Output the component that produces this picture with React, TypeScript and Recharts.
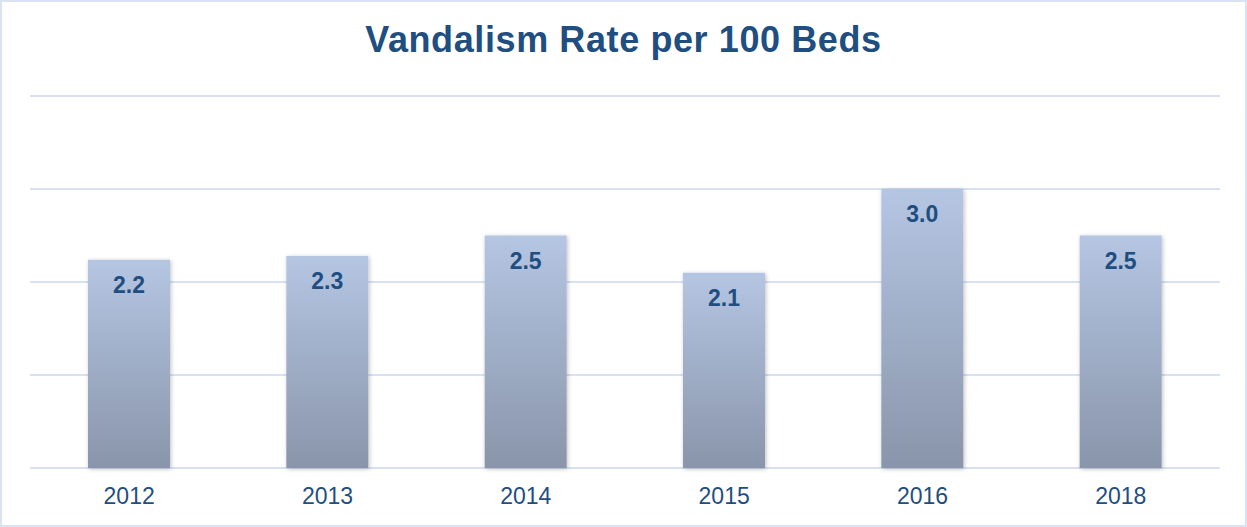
import React from 'react';
import { BarChart, Bar, XAxis, YAxis, CartesianGrid, LabelList } from 'recharts';

const years = ['2012', '2013', '2014', '2015', '2016', '2018'];
const rates = [2.24, 2.28, 2.5, 2.1, 3.0, 2.5];
const yTicks = [0, 1, 2, 3, 4];

const data = years.map((year, i) => ({ year, rate: rates[i] }));

const App: React.FC = () => {
  return (
    <div
      style={{
        position: 'absolute',
        left: 0,
        top: 0,
        width: 1247,
        height: 527,
        boxSizing: 'border-box',
        border: '2px solid #dae3f3',
        background: '#fff',
        fontFamily: '"Liberation Sans", Arial, sans-serif',
      }}
    >
      <div
        style={{
          position: 'absolute',
          left: 0,
          top: 17,
          width: '100%',
          textAlign: 'center',
          fontSize: 36,
          letterSpacing: 0.6,
          fontWeight: 'bold',
          color: '#1f4e80',
        }}
      >
        Vandalism Rate per 100 Beds
      </div>
      <div style={{ position: 'absolute', left: -2, top: -2 }}>
        <BarChart
          width={1247}
          height={527}
          data={data}
          margin={{ top: 96, right: 27, bottom: 29, left: 30 }}
          barCategoryGap={58}
        >
          <defs>
            <linearGradient id="barFill" x1="0" y1="0" x2="0" y2="1">
              <stop offset="0%" stopColor="#b5c6e3" />
              <stop offset="100%" stopColor="#8995aa" />
            </linearGradient>
            <filter id="barShadow" x="-20%" y="-10%" width="140%" height="120%">
              <feDropShadow dx="1" dy="1" stdDeviation="2" floodColor="#000" floodOpacity="0.25" />
            </filter>
          </defs>
          <CartesianGrid vertical={false} stroke="#d6e2f2" strokeWidth={2} />
          <YAxis hide domain={[0, 4]} ticks={yTicks} />
          <XAxis
            dataKey="year"
            height={30}
            axisLine={false}
            tickLine={false}
            tickMargin={14}
            tick={{ fill: '#1f4e80', fontSize: 23, fontFamily: '"Liberation Sans", Arial, sans-serif' }}
          />
          <Bar dataKey="rate" fill="url(#barFill)" filter="url(#barShadow)" isAnimationActive={false}>
            <LabelList
              dataKey="rate"
              position="insideTop"
              offset={17}
              formatter={(v: number) => v.toFixed(1)}
              style={{
                fill: '#1f4e80',
                fontSize: 23,
                fontWeight: 'bold',
                fontFamily: '"Liberation Sans", Arial, sans-serif',
              }}
            />
          </Bar>
        </BarChart>
      </div>
    </div>
  );
};

export default App;
